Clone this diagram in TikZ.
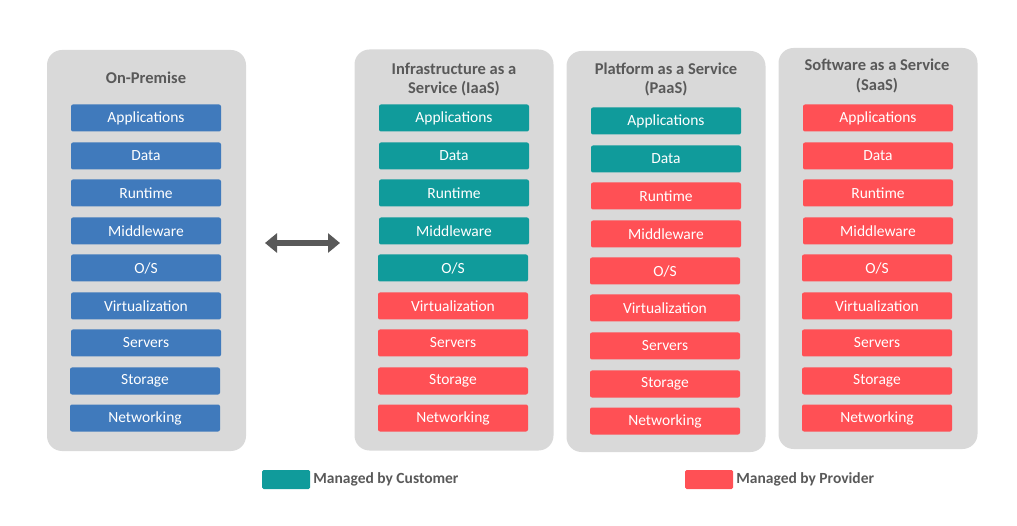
\documentclass[tikz,border=0pt]{standalone}
\usepackage{fontspec}
\setmainfont{Carlito}
\usepackage{tikz}
\usetikzlibrary{arrows.meta,positioning}
\usepackage{xcolor}
\definecolor{cblue}{RGB}{64,122,188}
\definecolor{cteal}{RGB}{16,155,155}
\definecolor{cred}{RGB}{255,80,85}
\definecolor{cpanel}{RGB}{217,217,217}
\definecolor{ctext}{RGB}{89,89,89}

\begin{document}
\begin{tikzpicture}[
    x=1pt, y=-1pt,
    panel/.style={fill=cpanel, rounded corners=15pt, minimum width=199pt,
                  minimum height=401pt, inner sep=0pt},
    title/.style={font=\fontsize{16.5}{19.5}\selectfont\bfseries, text=ctext, align=center},
    layer/.style={rounded corners=2pt, minimum width=150pt, minimum height=27pt,
                  inner sep=0pt, text=white, font=\fontsize{15.5}{17}\selectfont},
    own/.style={layer, fill=cteal},
    prov/.style={layer, fill=cred},
    legbox/.style={rounded corners=1.5pt, minimum width=48pt, minimum height=19pt, inner sep=0pt},
    legtext/.style={font=\fontsize{15.5}{17}\selectfont\bfseries, text=ctext, inner sep=0pt, anchor=west},
    arr/.style={{Triangle[length=12pt,width=19pt]}-{Triangle[length=12pt,width=19pt]},
                line width=6.5pt, ctext}
]
\useasboundingbox (0,0) rectangle (1017,526);

% Panels
\node[panel] (onprem) at (146.5,250.5) {};
\node[panel] (iaas) at (454,250) {};
\node[panel] (paas) at (666,251.5) {};
\node[panel] (saas) at (878,248.5) {};

% Titles
\node[title] (onprem-t) at (146,78) {On-Premise};
\node[title] (iaas-t) at (454,79.5) {Infrastructure as a\\Service (IaaS)};
\node[title] (paas-t) at (666,79.5) {Platform as a Service\\(PaaS)};
\node[title] (saas-t) at (877,76) {Software as a Service\\(SaaS)};

% On-Premise stack
\node[layer, fill=cblue] (op-app) at (146,118) {Applications};
\node[layer, fill=cblue] (op-data) at (146,156) {Data};
\node[layer, fill=cblue] (op-run) at (146,193) {Runtime};
\node[layer, fill=cblue] (op-mid) at (146,231) {Middleware};
\node[layer, fill=cblue] (op-os) at (146,268) {O/S};
\node[layer, fill=cblue] (op-virt) at (146,306) {Virtualization};
\node[layer, fill=cblue] (op-srv) at (146,343) {Servers};
\node[layer, fill=cblue] (op-sto) at (145,381) {Storage};
\node[layer, fill=cblue] (op-net) at (145,418) {Networking};

% IaaS stack
\node[own] (ia-app) at (454,118) {Applications};
\node[own] (ia-data) at (454,156) {Data};
\node[own] (ia-run) at (454,193) {Runtime};
\node[own] (ia-mid) at (454,231) {Middleware};
\node[own] (ia-os) at (453,268) {O/S};
\node[prov] (ia-virt) at (453,306) {Virtualization};
\node[prov] (ia-srv) at (453,343) {Servers};
\node[prov] (ia-sto) at (453,381) {Storage};
\node[prov] (ia-net) at (453,418) {Networking};

% PaaS stack
\node[own] (pa-app) at (666,121) {Applications};
\node[own] (pa-data) at (666,159) {Data};
\node[prov] (pa-run) at (666,196) {Runtime};
\node[prov] (pa-mid) at (666,234) {Middleware};
\node[prov] (pa-os) at (665,271) {O/S};
\node[prov] (pa-virt) at (665,308) {Virtualization};
\node[prov] (pa-srv) at (665,346) {Servers};
\node[prov] (pa-sto) at (665,384) {Storage};
\node[prov] (pa-net) at (665,421) {Networking};

% SaaS stack
\node[prov] (sa-app) at (878,118) {Applications};
\node[prov] (sa-data) at (878,156) {Data};
\node[prov] (sa-run) at (878,193) {Runtime};
\node[prov] (sa-mid) at (878,231) {Middleware};
\node[prov] (sa-os) at (877,268) {O/S};
\node[prov] (sa-virt) at (877,306) {Virtualization};
\node[prov] (sa-srv) at (877,343) {Servers};
\node[prov] (sa-sto) at (877,381) {Storage};
\node[prov] (sa-net) at (877,418) {Networking};

% Comparison arrow
\coordinate (arrL) at (265,243);
\coordinate (arrR) at (340,243);
\draw[arr] (arrL) -- (arrR);

% Legend
\node[legbox, fill=cteal] (leg-own) at (286,479.5) {};
\node[legtext, right=3pt of leg-own] (leg-own-t) {Managed by Customer};
\node[legbox, fill=cred] (leg-prov) at (709,479.5) {};
\node[legtext, right=3pt of leg-prov] (leg-prov-t) {Managed by Provider};

\end{tikzpicture}
\end{document}
